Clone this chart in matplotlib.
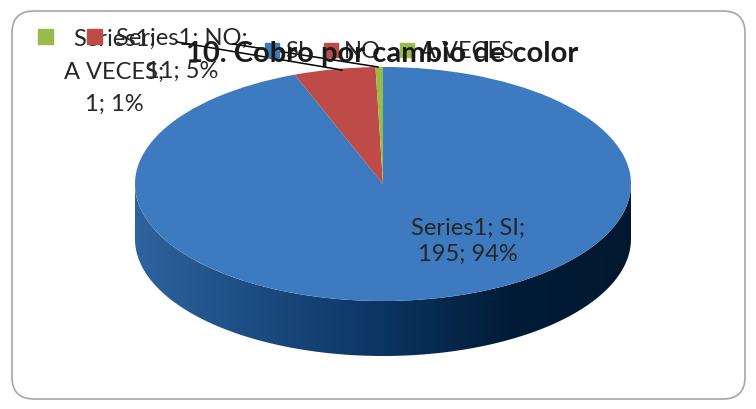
import numpy as np
import matplotlib
matplotlib.use("Agg")
import matplotlib.pyplot as plt
from matplotlib.patches import FancyBboxPatch, PathPatch, Rectangle
from matplotlib.path import Path
from matplotlib.transforms import Affine2D
from matplotlib.colors import LinearSegmentedColormap

# datos del grafico
serie = "Series1"
categorias = ["SI", "NO", "A VECES"]
valores = [195, 11, 1]
porcentajes = [94, 5, 1]
colores = ["#3D7ABF", "#BE4B48", "#98BB4A"]
titulo = "10. Cobro por cambio de color"

plt.rcParams['font.family'] = ['Lato', 'DejaVu Sans']

fig = plt.figure(figsize=(7.56, 4.10), dpi=100)
ax = fig.add_axes([0, 0, 1, 1])

# geometria de la elipse (pixeles)
cx, cy, a, b, prof = 383, 185, 248, 117, 55

# cara superior del pastel
wedges, _ = ax.pie(valores, colors=colores, startangle=90, counterclock=False,
                   wedgeprops=dict(linewidth=0))
tr = Affine2D().scale(a, -b).translate(cx, cy) + ax.transData
for w in wedges:
    w.set_transform(tr)
    w.set_zorder(3)

# lateral con degradado
t = np.linspace(0, np.pi, 200)
xs = cx + a * np.cos(t)
ys = cy + b * np.sin(t)
verts = np.concatenate([np.column_stack([xs, ys]),
                        np.column_stack([xs[::-1], ys[::-1] + prof])])
lado = PathPatch(Path(np.vstack([verts, verts[:1]]), closed=True),
                 facecolor='none', edgecolor='none')
ax.add_patch(lado)
cmap = LinearSegmentedColormap.from_list("lado", ["#2F639E", "#1B4B80", "#0B3562", "#021C38", "#01192F"])
im = ax.imshow(np.linspace(0, 1, 256).reshape(1, -1), cmap=cmap, aspect='auto',
               extent=(cx - a, cx + a, cy + b + prof, cy - b), zorder=2)
im.set_clip_path(lado)

ax.set_xlim(0, 756)
ax.set_ylim(410, 0)
ax.set_aspect('auto')
ax.axis('off')

# marco redondeado
ax.add_patch(FancyBboxPatch((12, 12), 733, 388, boxstyle="round,pad=0,rounding_size=22",
                            facecolor='none', edgecolor='#A6A6A6', lw=1.2, zorder=1))

fs = 17
txt = '#262626'

# etiqueta SI
ax.text(468, 241, f"{serie}; {categorias[0]};\n{valores[0]}; {porcentajes[0]}%",
        ha='center', va='center', fontsize=fs, color=txt, linespacing=1.3, zorder=5)

# etiqueta A VECES con clave
ax.add_patch(Rectangle((38, 30), 15, 15, color=colores[2], zorder=5))
ax.text(114, 72, f"{serie};\n{categorias[2]};\n{valores[2]}; {porcentajes[2]}%",
        ha='center', va='center', fontsize=fs, color=txt, linespacing=1.68, zorder=5)

# etiqueta NO con clave
ax.add_patch(Rectangle((87, 30), 15, 15, color=colores[1], zorder=5))
ax.text(182, 55, f"{serie}; {categorias[1]};\n{valores[1]}; {porcentajes[1]}%",
        ha='center', va='center', fontsize=fs, color=txt, linespacing=1.68, zorder=5)

# lineas guia
ax.plot([177, 342], [43, 71], color='black', lw=1.1, zorder=6)
ax.plot([233, 378], [45, 68], color='black', lw=1.1, zorder=6)

# leyenda
ley_x = [265, 324, 400]
for x, c, nom in zip(ley_x, colores, categorias):
    ax.add_patch(Rectangle((x, 44), 14, 14, color=c, zorder=6))
    ax.text(x + 20, 51, nom, ha='left', va='center', fontsize=fs, color=txt, zorder=6)

# titulo
ax.text(382, 54, titulo, ha='center', va='center', fontsize=21,
        fontweight='bold', color='#1A1A1A', zorder=7)

fig.savefig("out.png", dpi=100, facecolor='white')
